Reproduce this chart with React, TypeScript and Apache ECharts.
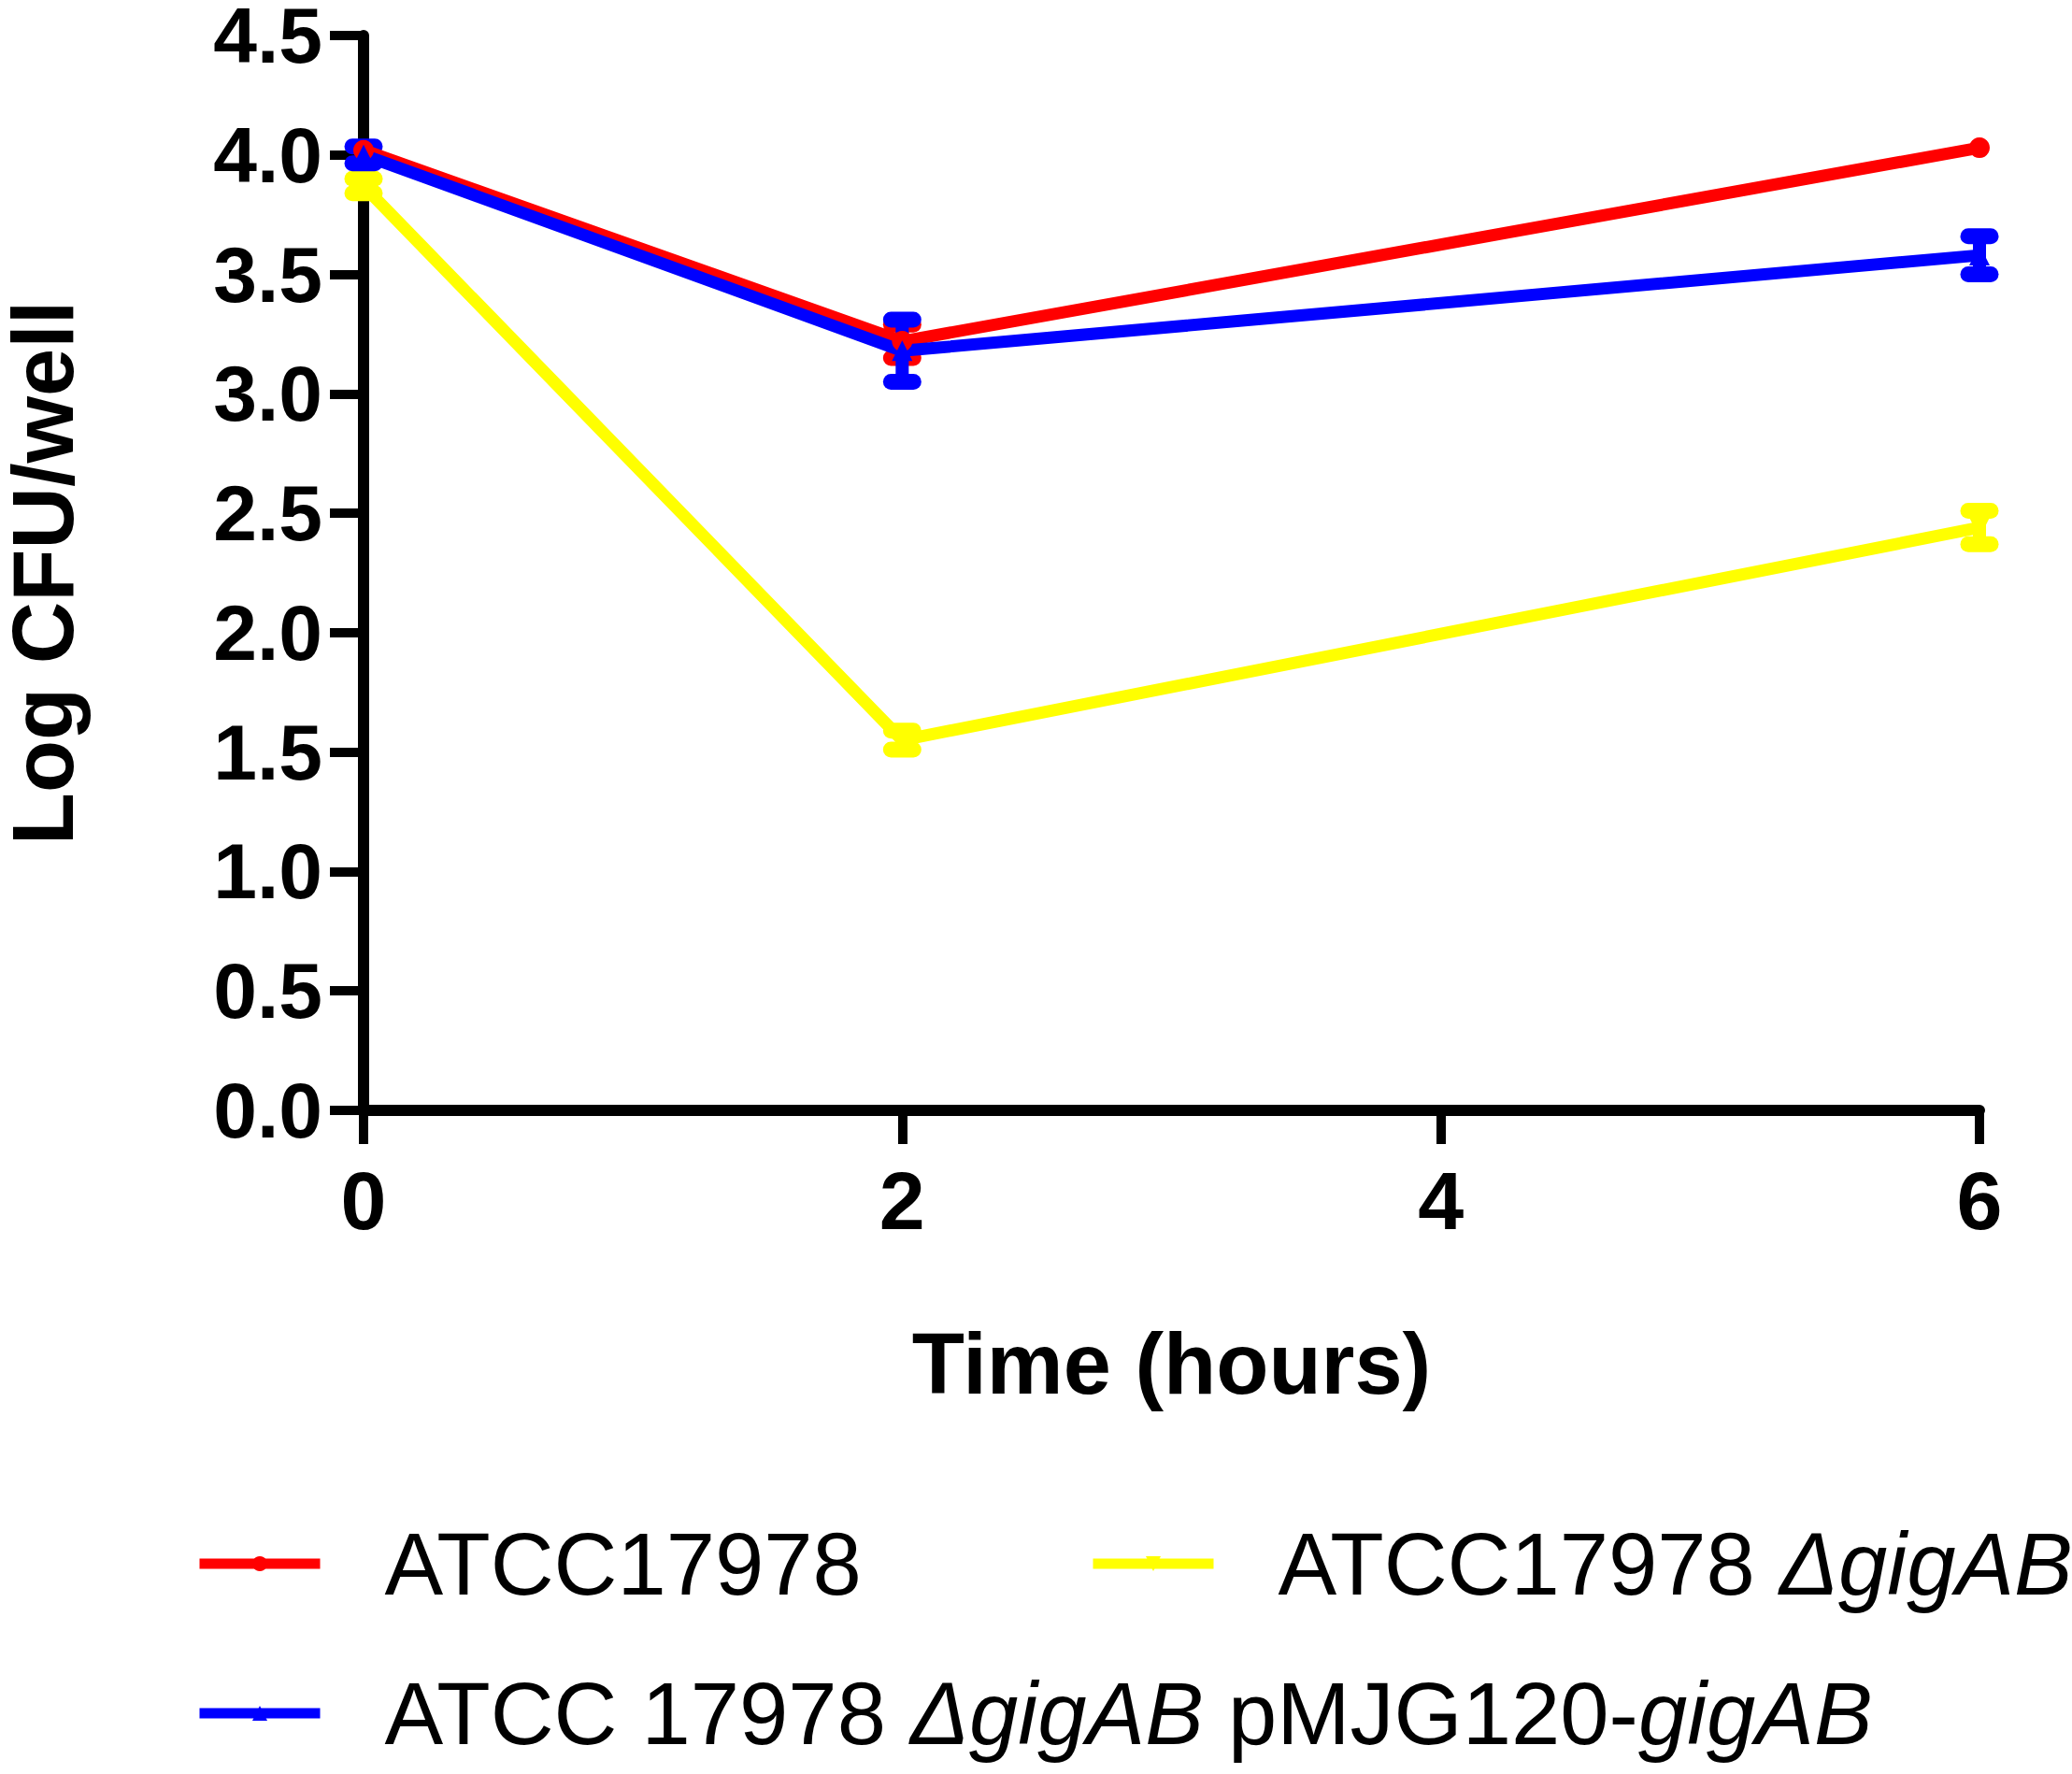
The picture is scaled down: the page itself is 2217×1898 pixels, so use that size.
import React, { useEffect, useRef } from "react";
import * as echarts from "echarts";

const hours = [0, 2, 6];
const wtName = "ATCC17978";
const wtMean = [4.02, 3.22, 4.03];
const wtErr = [0, 0.07, 0];
const mutName = "ATCC17978 ΔgigAB";
const mutMean = [3.87, 1.55, 2.44];
const mutErr = [0.03, 0.04, 0.07];
const compName = "ATCC 17978 ΔgigAB pMJG120-gigAB";
const compMean = [4.0, 3.18, 3.58];
const compErr = [0.035, 0.13, 0.08];
const xTicks = [0, 2, 4, 6];
const yTicks = [0, 0.5, 1, 1.5, 2, 2.5, 3, 3.5, 4, 4.5];

const FONT = "'Liberation Sans', Arial, Helvetica, sans-serif";
const RED = "#ff0000";
const BLUE = "#0000ff";
const YELLOW = "#ffff00";

const legendLabels: Record<string, string> = {
  [wtName]: "ATCC17978",
  [mutName]: "ATCC17978 {i|ΔgigAB}",
  [compName]: "ATCC 17978 {i|ΔgigAB} pMJG120-{i|gigAB}",
};

function errSeries(name: string, mean: number[], err: number[], color: string) {
  return {
    type: "custom",
    name,
    data: hours.map((h, i) => [h, mean[i], err[i]]),
    encode: { x: 0, y: 1 },
    clip: false,
    renderItem: (params: any, api: any) => {
      const x = api.value(0);
      const y = api.value(1);
      const e = api.value(2);
      if (!e) return null;
      const top = api.coord([x, y + e]);
      const bot = api.coord([x, y - e]);
      const hw = 12;
      const bar = { stroke: color, lineWidth: 14, lineCap: "round" };
      const cap = { stroke: color, lineWidth: 17, lineCap: "round" };
      return {
        type: "group",
        children: [
          { type: "line", shape: { x1: top[0], y1: top[1], x2: bot[0], y2: bot[1] }, style: bar },
          { type: "line", shape: { x1: top[0] - hw, y1: top[1], x2: top[0] + hw, y2: top[1] }, style: cap },
          { type: "line", shape: { x1: bot[0] - hw, y1: bot[1], x2: bot[0] + hw, y2: bot[1] }, style: cap },
        ],
      };
    },
    z: 3,
  };
}

function lineSeries(name: string, mean: number[], color: string, symbol: string, rotate = 0) {
  return {
    type: "line",
    name,
    data: hours.map((h, i) => [h, mean[i]]),
    symbol,
    symbolSize: 22,
    symbolRotate: rotate,
    showSymbol: true,
    lineStyle: { color, width: 13 },
    itemStyle: { color },
    z: 3,
  };
}

function legendAt(name: string, left: number, top: number) {
  return {
    left,
    top,
    data: [name],
    selectedMode: false,
    itemWidth: 129,
    itemHeight: 20,
    lineStyle: { width: 11 },
    formatter: (n: string) => legendLabels[n] || n,
    textStyle: {
      fontFamily: FONT,
      fontSize: 94,
      color: "#000",
      padding: [0, 0, 0, 64],
      rich: {
        i: { fontFamily: FONT, fontSize: 94, fontStyle: "italic", color: "#000" },
      },
    },
  };
}

export default function App() {
  const ref = useRef<HTMLDivElement>(null);
  useEffect(() => {
    if (!ref.current) return;
    const chart = echarts.init(ref.current, undefined, { renderer: "svg" });
    chart.setOption({
      animation: false,
      backgroundColor: "#ffffff",
      grid: {
        left: 389,
        right: 99,
        top: 38,
        bottom: 710,
        containLabel: false,
        outerBoundsMode: "none",
      },
      xAxis: {
        type: "value",
        min: 0,
        max: 6,
        interval: 2,
        name: "Time (hours)",
        nameLocation: "middle",
        nameGap: 225,
        nameTextStyle: { fontFamily: FONT, fontSize: 92, fontWeight: "bold", color: "#000" },
        axisLine: { lineStyle: { color: "#000", width: 12 } },
        axisTick: { show: true, length: 36, lineStyle: { color: "#000", width: 10 } },
        axisLabel: {
          margin: 52,
          fontFamily: FONT,
          fontSize: 88,
          fontWeight: "bold",
          color: "#000",
          customValues: xTicks,
          formatter: (v: number) => String(v),
        },
        splitLine: { show: false },
      },
      yAxis: {
        type: "value",
        min: 0,
        max: 4.5,
        interval: 0.5,
        name: "Log CFU/well",
        nameLocation: "middle",
        nameGap: 303,
        nameTextStyle: { fontFamily: FONT, fontSize: 92, fontWeight: "bold", color: "#000", lineHeight: 80 },
        axisLine: { show: true, lineStyle: { color: "#000", width: 12 } },
        axisTick: { show: true, length: 36, lineStyle: { color: "#000", width: 10 } },
        axisLabel: {
          margin: 44,
          fontFamily: FONT,
          fontSize: 84,
          lineHeight: 70,
          fontWeight: "bold",
          color: "#000",
          customValues: yTicks,
          formatter: (v: number) => v.toFixed(1),
        },
        splitLine: { show: false },
      },
      legend: [
        legendAt(wtName, 203, 1621),
        legendAt(mutName, 1159, 1621),
        legendAt(compName, 203, 1781),
      ],
      series: [
        lineSeries(mutName, mutMean, YELLOW, "triangle", 180),
        errSeries("err-mut", mutMean, mutErr, YELLOW),
        lineSeries(wtName, wtMean, RED, "circle"),
        errSeries("err-wt", wtMean, wtErr, RED),
        lineSeries(compName, compMean, BLUE, "triangle"),
        errSeries("err-comp", compMean, compErr, BLUE),
      ],
    });
    return () => chart.dispose();
  }, []);
  return (
    <div
      ref={ref}
      style={{ position: "fixed", left: 0, top: 0, width: 2217, height: 1898, background: "#fff" }}
    />
  );
}
